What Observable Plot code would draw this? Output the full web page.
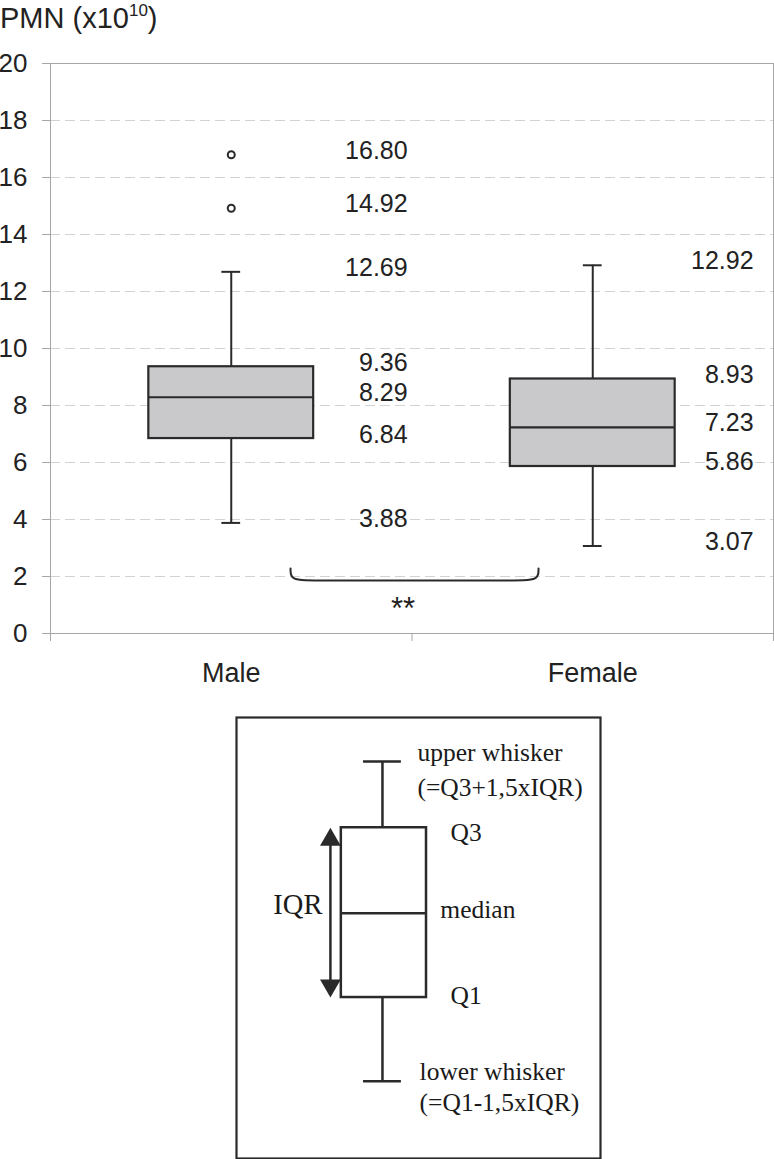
<!DOCTYPE html>
<html><head><meta charset="utf-8">
<script src="https://cdn.jsdelivr.net/npm/d3@7"></script>
<script src="https://cdn.jsdelivr.net/npm/@observablehq/plot@0.6"></script>
<style>
html,body{margin:0;padding:0;background:#fff;}
#page{position:relative;width:774px;height:1159px;overflow:hidden;font-family:"Liberation Sans",Arial,sans-serif;color:#222;}
#main{position:absolute;left:0;top:0;}
#legend{position:absolute;left:235px;top:716px;}
#title{position:absolute;left:0;top:4px;font-size:29px;line-height:1;white-space:nowrap;}
#title .sup{font-size:17px;position:relative;top:-12px;}
</style></head>
<body><div id="page"><div id="main"></div><div id="legend"></div><div id="title">PMN (x10<span class="sup">10</span>)</div></div>
<script>
// ---- data ----
const groups = ["Male", "Female"];
const lowerWhisker = [3.88, 3.07];
const q1 = [6.84, 5.86];
const median = [8.29, 7.23];
const q3 = [9.36, 8.93];
const upperWhisker = [12.69, 12.92];
const outlierGroup = ["Male", "Male"];
const outlierValue = [16.80, 14.92];
const yTicks = [0, 2, 4, 6, 8, 10, 12, 14, 16, 18, 20];
const comparison = {from: "Male", to: "Female", label: "**"};

// legend (schematic box plot, abstract units 0-100)
const legendStats = [{lo: 17.5, q1: 36.5, med: 55.6, q3: 75, hi: 90}];
const legendLabels = {
  upper: "upper whisker\n(=Q3+1,5xIQR)",
  lower: "lower whisker\n(=Q1-1,5xIQR)",
  q3: "Q3", q1: "Q1", median: "median", iqr: "IQR"
};

// ---- build tables ----
const rows = groups.map((g, i) => ({g, x: i + 0.5, lo: lowerWhisker[i], q1: q1[i], med: median[i], q3: q3[i], hi: upperWhisker[i]}));
const outliers = outlierValue.map((v, i) => ({g: outlierGroup[i], x: groups.indexOf(outlierGroup[i]) + 0.5, v}));
const labels = rows.flatMap(r => [r.lo, r.q1, r.med, r.q3, r.hi].map(v => ({g: r.g, x: r.x, v}))
  .concat(outliers.filter(o => o.g === r.g)));

const BOX = 0.228, CAP = 0.026;
const LABEL_DX = {Male: 0.488, Female: 0.445};
const ink = "#2a2a2a", frameC = "#a6a6a6", gridC = "#d2d2d2";

const i0 = groups.indexOf(comparison.from) + 0.5, i1 = groups.indexOf(comparison.to) + 0.5;
const bx1 = i0 + 0.164, bx2 = i1 - 0.15, bTop = 2.28, bBot = 1.86, bc = 0.06;
const brace = [[bx1, bTop], [bx1, bBot], [bx1 + bc, bBot], [bx2 - bc, bBot], [bx2, bBot], [bx2, bTop]];

const main = Plot.plot({
  width: 774, height: 700,
  marginTop: 63, marginBottom: 67, marginLeft: 50, marginRight: 1,
  style: {fontFamily: "Liberation Sans, Arial, sans-serif", fontSize: "26px", color: "#222", background: "transparent", overflow: "visible"},
  x: {domain: [0, 2]},
  y: {domain: [0, 20]},
  marks: [
    Plot.ruleY(yTicks.filter(t => t > 0 && t < 20), {stroke: gridC, strokeDasharray: "10,5"}),
    Plot.ruleY([0, 20], {stroke: frameC}),
    Plot.ruleX([0, 2], {stroke: frameC}),
    Plot.axisY({ticks: yTicks, tickSize: 8, tickPadding: 15, stroke: frameC, fill: "#222", fontSize: 26, label: null}),
    Plot.axisX({ticks: [0, 1, 2], tickSize: 8, tickFormat: () => "", stroke: frameC, label: null}),
    Plot.axisX({ticks: groups.map((g, i) => i + 0.5), tickSize: 0, tickPadding: 29, tickFormat: d => groups[Math.floor(d)], fill: "#222", fontSize: 27, label: null}),
    // whiskers
    Plot.ruleX(rows, {x: "x", y1: "lo", y2: "q1", stroke: ink, strokeWidth: 2}),
    Plot.ruleX(rows, {x: "x", y1: "q3", y2: "hi", stroke: ink, strokeWidth: 2}),
    Plot.ruleY(rows, {y: "hi", x1: d => d.x - CAP, x2: d => d.x + CAP, stroke: ink, strokeWidth: 2}),
    Plot.ruleY(rows, {y: "lo", x1: d => d.x - CAP, x2: d => d.x + CAP, stroke: ink, strokeWidth: 2}),
    // boxes
    Plot.rect(rows, {x1: d => d.x - BOX, x2: d => d.x + BOX, y1: "q1", y2: "q3", fill: "#c9c9cb", stroke: ink, strokeWidth: 2.2}),
    Plot.ruleY(rows, {y: "med", x1: d => d.x - BOX, x2: d => d.x + BOX, stroke: ink, strokeWidth: 2.2}),
    // outliers
    Plot.dot(outliers, {x: "x", y: "v", r: 3.5, stroke: ink, strokeWidth: 2, fill: "white"}),
    // value labels
    Plot.text(labels, {x: d => d.x + LABEL_DX[d.g], y: "v", text: d => d.v.toFixed(2), textAnchor: "end", dy: -4, fontSize: 25, fill: "#222"}),
    // significance brace
    Plot.line(brace, {x: d => d[0], y: d => d[1], curve: "basis", stroke: ink, strokeWidth: 2}),
    Plot.text([comparison], {x: (i0 + i1) / 2, y: bBot, text: "label", lineAnchor: "top", dy: 16, dx: -9, fontSize: 31, fill: "#222"})
  ]
});
document.getElementById("main").appendChild(main);

const LX = {c: 40.1, box1: 28.8, box2: 52.2, cap: 5.2, arrow: 25.8, iqr: 23.6, upper: 49.7, q: 58.8, med: 56.0, lower: 50.3};
const legend = Plot.plot({
  width: 366, height: 443, margin: 1,
  x: {domain: [0, 100], axis: null},
  y: {domain: [0, 100], axis: null},
  style: {fontFamily: "Liberation Serif, Times New Roman, serif", fontSize: "25.5px", color: "#1a1a1a", background: "white", overflow: "visible"},
  marks: [
    Plot.frame({stroke: "#2a2a2a", strokeWidth: 2.2}),
    Plot.ruleX(legendStats, {x: LX.c, y1: "lo", y2: "q1", stroke: ink, strokeWidth: 2.5}),
    Plot.ruleX(legendStats, {x: LX.c, y1: "q3", y2: "hi", stroke: ink, strokeWidth: 2.5}),
    Plot.ruleY(legendStats, {y: "hi", x1: LX.c - LX.cap, x2: LX.c + LX.cap, stroke: ink, strokeWidth: 2.5}),
    Plot.ruleY(legendStats, {y: "lo", x1: LX.c - LX.cap, x2: LX.c + LX.cap, stroke: ink, strokeWidth: 2.5}),
    Plot.rect(legendStats, {x1: LX.box1, x2: LX.box2, y1: "q1", y2: "q3", fill: "white", stroke: ink, strokeWidth: 2.5}),
    Plot.ruleY(legendStats, {y: "med", x1: LX.box1, x2: LX.box2, stroke: ink, strokeWidth: 2.5}),
    // IQR arrow
    Plot.ruleX(legendStats, {x: LX.arrow, y1: "q3", y2: "q1", stroke: ink, strokeWidth: 2.5, insetTop: 12, insetBottom: 12}),
    Plot.dot(legendStats, {x: LX.arrow, y: "q3", symbol: "triangle2", r: 9.9, fill: ink, dy: 12}),
    Plot.dot(legendStats, {x: LX.arrow, y: "q1", symbol: "triangle2", r: 9.9, fill: ink, rotate: 180, dy: -12}),
    Plot.text(legendStats, {x: LX.iqr, y: "med", text: () => legendLabels.iqr, textAnchor: "end", dy: -8, fontSize: 28.5}),
    Plot.text(legendStats, {x: LX.upper, y: "hi", text: () => legendLabels.upper, textAnchor: "start", lineAnchor: "top", dy: -25, lineHeight: 1.36}),
    Plot.text(legendStats, {x: LX.lower, y: "lo", text: () => legendLabels.lower, textAnchor: "start", lineAnchor: "top", dy: -23, lineHeight: 1.2}),
    Plot.text(legendStats, {x: LX.q, y: "q3", text: () => legendLabels.q3, textAnchor: "start", dy: 5}),
    Plot.text(legendStats, {x: LX.med, y: "med", text: () => legendLabels.median, textAnchor: "start", dy: -3}),
    Plot.text(legendStats, {x: LX.q, y: "q1", text: () => legendLabels.q1, textAnchor: "start", dy: -2})
  ]
});
document.getElementById("legend").appendChild(legend);
</script>
</body></html>
